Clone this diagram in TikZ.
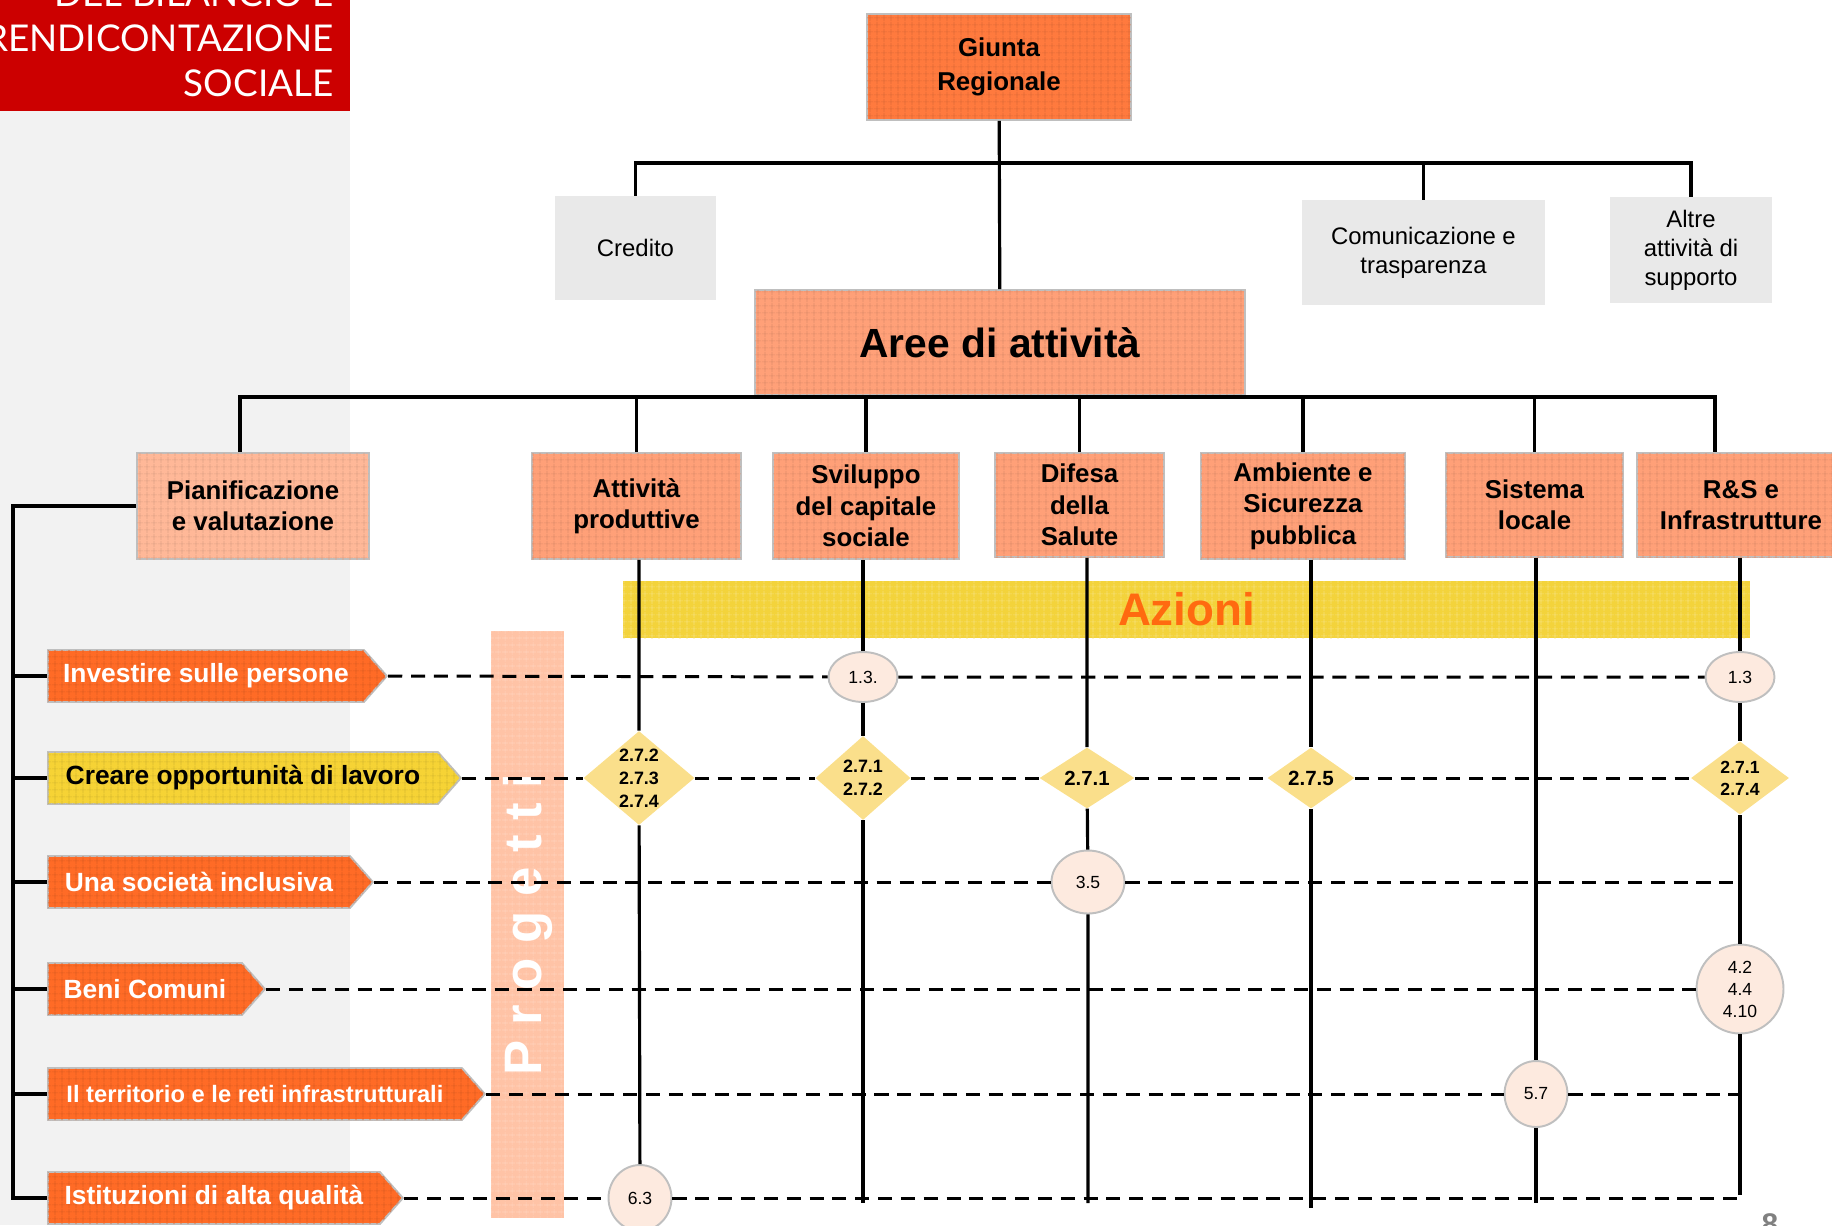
\documentclass[tikz,border=0pt]{standalone}
\usepackage{fontspec}
\setmainfont{Liberation Sans}
\newfontfamily\titlefont{Lato}
\usetikzlibrary{positioning}
\usetikzlibrary{shapes.geometric}
\usetikzlibrary{shapes.symbols}
\usetikzlibrary{patterns.meta}
\definecolor{titlered}{HTML}{CC0000}
\definecolor{panelgray}{HTML}{F2F2F2}
\definecolor{boxgray}{HTML}{E9E9E9}
\definecolor{giuntaor}{HTML}{FF7A3E}
\definecolor{areaor}{HTML}{FFA078}
\definecolor{lightor}{HTML}{FFB898}
\definecolor{progor}{HTML}{FFC3A6}
\definecolor{goalor}{HTML}{FF6B26}
\definecolor{goalyel}{HTML}{F6D335}
\definecolor{azyel}{HTML}{F3D33B}
\definecolor{azitext}{HTML}{FF6A10}
\definecolor{diamyel}{HTML}{FADF8B}
\definecolor{circfill}{HTML}{FDEADF}
\definecolor{edgegray}{HTML}{BFBFBF}
\tikzset{tree/.style = {line width=1.8pt}}
\tikzset{row/.style = {line width=1.7pt, dash pattern=on 8pt off 5pt}}
\tikzset{texture/.style = {postaction={pattern={Hatch[distance=4pt,line width=0.45pt]},
                                       pattern color=#1}}}
\tikzset{orbox/.style = {draw=edgegray, line width=1.1pt, fill=#1, texture=#1!88!black,
                         inner sep=0, align=center,
                         font=\bfseries\fontsize{14.7}{17.9}\selectfont}}
\tikzset{grbox/.style = {fill=boxgray, inner sep=0, align=center,
                         font=\fontsize{13.6}{16.4}\selectfont}}
\tikzset{goal/.style = {signal, signal to=east, signal pointer angle=97,
                        fill=#1, texture=#1!88!black, draw=edgegray, line width=1.1pt,
                        anchor=west, minimum height=1.04cm, inner xsep=0.12cm, inner ysep=0,
                        text=white, font=\bfseries\fontsize{15}{18}\selectfont}}
\tikzset{band/.style = {fill=#1, inner sep=0}}
\tikzset{diam/.style = {diamond, fill=diamyel, inner sep=0, align=center,
                        font=\bfseries\fontsize{10.2}{13}\selectfont}}
\tikzset{circ/.style = {ellipse, fill=circfill, draw=edgegray, line width=1.1pt,
                        inner sep=0, align=center, font=\fontsize{10}{12.5}\selectfont}}

\begin{document}
\begin{tikzpicture}[x=0.02cm, y=-0.02cm]
  \useasboundingbox (0,0) rectangle (1832,1225);
  % Side panel and title
  \fill[panelgray] (0,111) rectangle (350,1225);
  \fill[titlered] (0,0) rectangle (350,111);
  \node[anchor=south east, inner sep=0, align=right, text=white,
        font=\titlefont\fontsize{21}{25.5}\selectfont] (title) at (334,97)
        {DEL BILANCIO E\\RENDICONTAZIONE\\SOCIALE};

  % Bands
  \node[band=progor, texture=progor!75!white, rotate=90, minimum width=11.74cm,
        minimum height=1.46cm, text=white, font=\bfseries\fontsize{30}{30}\selectfont]
        (progetti) at (527.5,924.5) {P r o g e t t i};
  \node[band=azyel, texture=azyel!70!white, minimum width=22.54cm, minimum height=1.14cm,
        text=azitext, font=\bfseries\fontsize{26}{26}\selectfont]
        (azioni) at (1186.5,609.5) {Azioni};

  % Top of the chart
  \node[orbox=giuntaor, minimum width=5.28cm, minimum height=2.12cm,
        font=\bfseries\fontsize{14.7}{19.3}\selectfont] (giunta) at (999,67) {Giunta\\Regionale};
  \node[grbox, minimum width=3.22cm, minimum height=2.08cm] (credito) at (635.5,248) {Credito};
  \node[grbox, minimum width=4.86cm, minimum height=2.1cm] (comun) at (1423.5,252.5)
        {Comunicazione e\\trasparenza};
  \node[grbox, minimum width=3.24cm, minimum height=2.12cm] (altre) at (1691,250)
        {Altre\\attività di\\supporto};
  \node[orbox=areaor, minimum width=9.8cm, minimum height=2.1cm,
        font=\bfseries\fontsize{23.2}{28}\selectfont] (aree) at (1000,342.5) {Aree di attività};

  % Areas
  \node[orbox=lightor, minimum width=4.64cm, minimum height=2.12cm] (pian) at (253,506)
        {Pianificazione\\e valutazione};
  \node[orbox=areaor, minimum width=4.18cm, minimum height=2.12cm] (attiv) at (636.5,506)
        {Attività\\produttive};
  \node[orbox=areaor, minimum width=3.72cm, minimum height=2.12cm] (svil) at (866,506)
        {Sviluppo\\del capitale\\sociale};
  \node[orbox=areaor, minimum width=3.38cm, minimum height=2.08cm] (difesa) at (1079.5,505)
        {Difesa\\della\\Salute};
  \node[orbox=areaor, minimum width=4.08cm, minimum height=2.12cm] (amb) at (1303,506)
        {Ambiente e\\Sicurezza\\pubblica};
  \node[orbox=areaor, minimum width=3.54cm, minimum height=2.08cm] (sist) at (1534.5,505)
        {Sistema\\locale};
  \node[orbox=areaor, minimum width=4.16cm, minimum height=2.08cm] (rs) at (1741,505)
        {R\&S e\\Infrastrutture};

  % Goals
  \node[goal=goalor, minimum width=6.78cm] (inv) at (47,676) {Investire sulle persone};
  \node[goal=goalyel, text=black, minimum width=8.26cm] (cre) at (47,778)
        {Creare opportunità di lavoro};
  \node[goal=goalor, minimum width=6.5cm] (una) at (47,882) {Una società inclusiva};
  \node[goal=goalor, minimum width=4.34cm] (beni) at (47,989) {Beni Comuni};
  \node[goal=goalor, minimum width=8.74cm, font=\bfseries\fontsize{13.5}{16}\selectfont]
        (terr) at (47,1094) {Il territorio e le reti infrastrutturali};
  \node[goal=goalor, minimum width=7.1cm] (istit) at (47,1198) {Istituzioni di alta qualità};

  % Actions and projects
  \node[circ, minimum width=1.38cm, minimum height=1.0cm] (c13a) at (863,677) {1.3.};
  \node[circ, minimum width=1.38cm, minimum height=1.0cm] (c13b) at (1740,677) {1.3};
  \node[diam, shape aspect=1.2, minimum width=2.22cm, minimum height=1.88cm] (d1) at (639,778)
        {2.7.2\\2.7.3\\2.7.4};
  \node[diam, minimum width=1.9cm, minimum height=1.68cm] (d2) at (863,778) {2.7.1\\2.7.2};
  \node[diam, minimum width=1.9cm, minimum height=1.22cm,
        font=\bfseries\fontsize{11.6}{13}\selectfont] (d3) at (1087,778) {2.7.1};
  \node[diam, minimum width=1.74cm, minimum height=1.22cm,
        font=\bfseries\fontsize{11.7}{13}\selectfont] (d4) at (1311,778) {2.7.5};
  \node[diam, minimum width=1.96cm, minimum height=1.3cm,
        font=\bfseries\fontsize{10}{12.5}\selectfont] (d5) at (1740,778) {2.7.1\\2.7.4};
  \node[circ, minimum width=1.46cm, minimum height=1.26cm] (c35) at (1088,882) {3.5};
  \node[circ, minimum width=1.74cm, minimum height=1.78cm] (c4) at (1740,989) {4.2\\4.4\\4.10};
  \node[circ, minimum width=1.26cm, minimum height=1.32cm] (c57) at (1536,1094) {5.7};
  \node[circ, minimum width=1.26cm, minimum height=1.32cm] (c63) at (640,1198) {6.3};

  \node[anchor=north, inner sep=0, text=gray, font=\bfseries\fontsize{17}{17}\selectfont]
        (pagenum) at (1770,1213) {8};

  % Tree connectors
  \coordinate (topbar) at (999,163);
  \coordinate (lowbar) at (1000,397);
  \coordinate (trunk) at (13,506);
  \coordinate (bottom) at (1000,1203);
  \coordinate (rowend) at (1742,1198);
  \draw[tree] (giunta) -- (aree);
  \draw[tree] (credito.north) |- (topbar) -| (altre.north);
  \draw[tree] (comun.north) -- (comun.north |- topbar);
  \draw[tree] ([xshift=-0.26cm]pian.north) |- (lowbar) -| ([xshift=-0.52cm]rs.north);
  \foreach \a in {attiv,svil,difesa,amb,sist}
    \draw[tree] (\a.north) -- (\a.north |- lowbar);
  \draw[tree] (pian.west) -- (trunk) |- (istit.west);
  \foreach \g in {inv,cre,una,beni,terr}
    \draw[tree] (\g.west -| trunk) -- (\g.west);

  % Columns
  \draw[tree] (attiv.south -| d1) -- (d1) -- (c63);
  \draw[tree] (svil.south -| c13a) -- (c13a) -- (d2) -- (d2 |- bottom);
  \draw[tree] (difesa.south -| d3) -- (d3) -- (c35) -- (c35 |- bottom);
  \draw[tree] (amb.south -| d4) -- (d4) -- ([yshift=-0.1cm]d4 |- bottom);
  \draw[tree] (sist.south -| c57) -- (c57) -- (c57 |- bottom);
  \draw[tree] (rs.south -| c13b) -- (c13b) -- (d5) -- (c4) -- ([yshift=0.16cm]c4 |- bottom);

  % Rows
  \draw[row] (inv.east) -- (c13a) -- (c13b);
  \draw[row] (cre.east) -- (d1) -- (d2) -- (d3) -- (d4) -- (d5);
  \draw[row] (una.east) -- (c35) -- (c35 -| rowend);
  \draw[row] (beni.east) -- (c4);
  \draw[row] (terr.east) -- (c57) -- (c57 -| rowend);
  \draw[row] (istit.east) -- (c63) -- (c63 -| rowend);
\end{tikzpicture}
\end{document}
